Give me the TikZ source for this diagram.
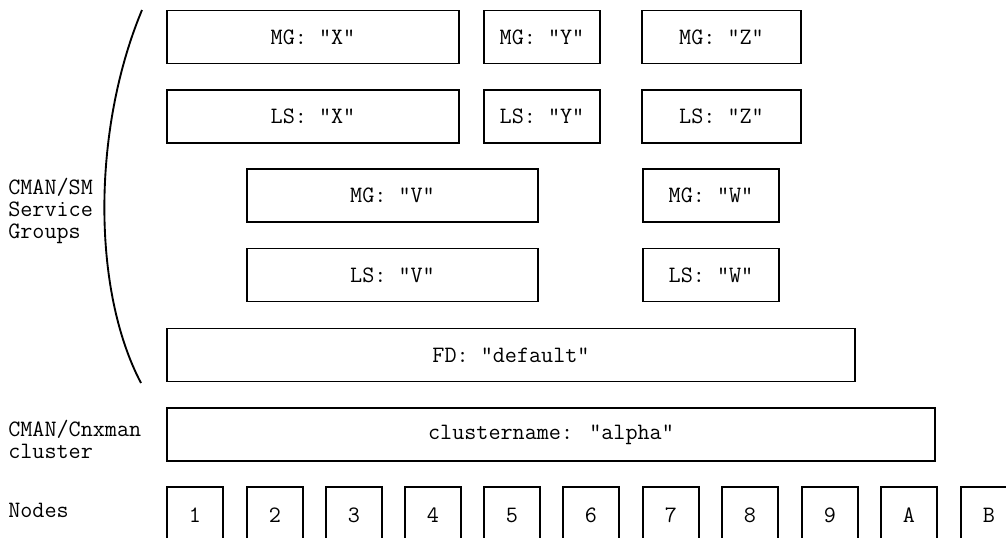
\documentclass[tikz,border=0pt]{standalone}
\usepackage{fontspec}
\begin{document}
\begin{tikzpicture}[x=0.75pt,y=-0.75pt,
  font=\ttfamily\fontsize{17.6pt}{16.6pt}\selectfont,
  box/.style={draw=black, line width=1.4pt, rectangle, inner sep=0pt, minimum height=39.75pt},
  nodebox/.style={draw=black, line width=1.4pt, rectangle, inner sep=0pt, minimum width=42pt, minimum height=42pt},
  lbl/.style={anchor=west, align=left, inner sep=0pt}]
\useasboundingbox (0,0) rectangle (1006,537);
\clip (0,0) rectangle (1006,537);
% service group boxes
\node[box, minimum width=219pt] (mgx) at (313,37) {MG: "X"};
\node[box, minimum width=87pt] (mgy) at (542,37) {MG: "Y"};
\node[box, minimum width=119.25pt] (mgz) at (721.5,37) {MG: "Z"};
\node[box, minimum width=219pt] (lsx) at (313,116.5) {LS: "X"};
\node[box, minimum width=87pt] (lsy) at (542,116.5) {LS: "Y"};
\node[box, minimum width=119.25pt] (lsz) at (721.5,116.5) {LS: "Z"};
\node[box, minimum width=218.25pt] (mgv) at (392.5,195.5) {MG: "V"};
\node[box, minimum width=102pt] (mgw) at (711,195.5) {MG: "W"};
\node[box, minimum width=218.25pt] (lsv) at (392.5,275) {LS: "V"};
\node[box, minimum width=102pt] (lsw) at (711,275) {LS: "W"};
\node[box, minimum width=516pt] (fd) at (511,355) {FD: "default"};
\node[box, minimum width=576pt] (cl) at (551,434.5) {clustername: "alpha"};
% nodes
\foreach \n/\x in {1/167,2/247,3/326,4/405,5/484,6/563,7/643,8/722,9/802,A/881,B/961}{
  \node[nodebox] (node\n) at (\x+28,515) {\n};
}
% left labels
\node[lbl] (lsg) at (8,211) {CMAN/SM\\Service\\Groups};
\node[lbl] (lcl) at (8,439) {CMAN/Cnxman\\cluster};
\node[lbl] (lnd) at (8,510) {Nodes};
% brace curve
\coordinate (ctop) at (142,10);
\coordinate (cbot) at (141,383);
\draw[line width=1.4pt] (ctop) .. controls (92,130) and (92,290) .. (cbot);
\end{tikzpicture}
\end{document}
